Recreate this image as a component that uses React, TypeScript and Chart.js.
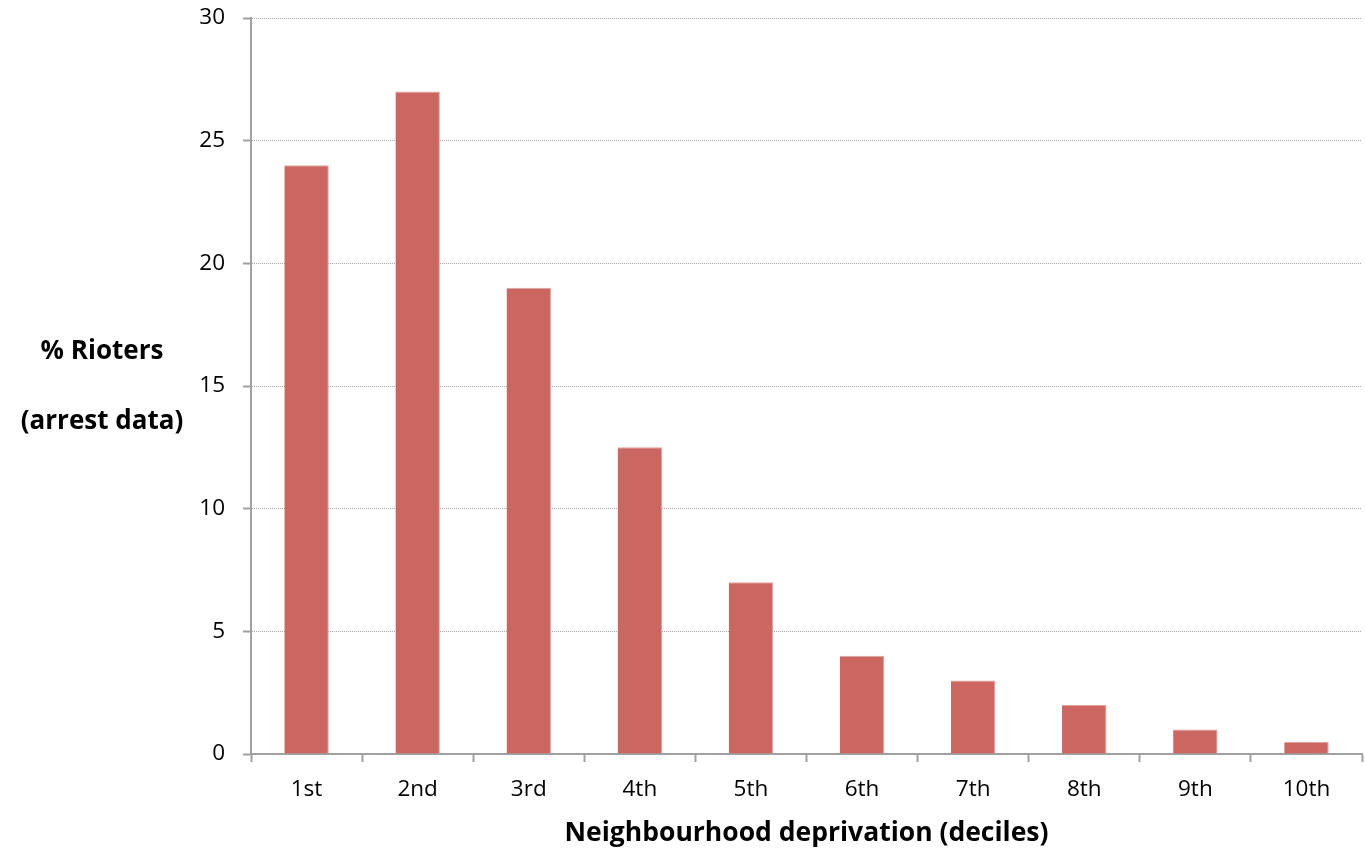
import React, { useEffect, useRef } from "react";
import { Chart, registerables } from "chart.js";

Chart.register(...registerables);

// Share of arrested rioters by neighbourhood deprivation decile
const deciles = ["1st", "2nd", "3rd", "4th", "5th", "6th", "7th", "8th", "9th", "10th"];
const rioterShare = [24, 27, 19, 12.5, 7, 4, 3, 2, 1, 0.5];
const yTicks = [0, 5, 10, 15, 20, 25, 30];
const yTitleLines = ["% Rioters", "(arrest data)"];
const xTitle = "Neighbourhood deprivation (deciles)";

const FONT = "'Open Sans', sans-serif";

// Horizontal, two-line y-axis title drawn left of the tick labels
const sideTitle = {
  id: "sideTitle",
  afterDraw(chart: any) {
    const { ctx, chartArea } = chart;
    const cx = chartArea.left - 149;
    const cy = (chartArea.top + chartArea.bottom) / 2;
    ctx.save();
    ctx.font = `bold 26px ${FONT}`;
    ctx.fillStyle = "#000";
    ctx.textAlign = "center";
    ctx.textBaseline = "middle";
    ctx.fillText(yTitleLines[0], cx, cy - 34);
    ctx.fillText(yTitleLines[1], cx, cy + 36);
    ctx.restore();
  },
};

export default function App() {
  const ref = useRef<HTMLCanvasElement>(null);

  useEffect(() => {
    if (!ref.current) return;
    const chart = new Chart(ref.current, {
      type: "bar",
      data: {
        labels: deciles,
        datasets: [
          {
            data: rioterShare,
            backgroundColor: "#CC6660",
            borderColor: "#E3A19B",
            borderWidth: { right: 1, top: 1, left: 0, bottom: 0 },
            borderSkipped: "bottom",
            categoryPercentage: 1,
            barPercentage: 0.4,
          },
        ],
      },
      options: {
        animation: false,
        responsive: false,
        layout: { padding: { top: 18, right: 3, left: 0, bottom: 0 } },
        plugins: { legend: { display: false }, tooltip: { enabled: false } },
        scales: {
          x: {
            grid: {
              offset: true,
              drawOnChartArea: false,
              drawTicks: true,
              tickLength: 8,
              tickColor: "#A0A0A0",
              tickWidth: 2,
            },
            border: { color: "#A0A0A0", width: 2 },
            ticks: {
              color: "#000",
              font: { family: FONT, size: 22.5 },
              padding: 14,
              maxRotation: 0,
            },
            title: {
              display: true,
              text: xTitle,
              color: "#000",
              font: { family: FONT, size: 26.5, weight: "bold" },
              padding: { top: 0, bottom: 3 },
            },
            afterFit(scale: any) {
              scale.height = 98;
              scale.paddingLeft = 0;
              scale.paddingRight = 0;
            },
          },
          y: {
            min: 0,
            max: 30,
            afterBuildTicks(scale: any) {
              scale.ticks = yTicks.map((v) => ({ value: v }));
            },
            grid: {
              color: "#A8A8A8",
              lineWidth: 1,
              drawTicks: true,
              tickLength: 8,
              tickColor: "#A0A0A0",
              tickWidth: 2,
              tickBorderDash: [],
            },
            border: { color: "#A0A0A0", width: 2, dash: [1, 1] },
            ticks: {
              color: "#000",
              font: { family: FONT, size: 22.5 },
              padding: 18,
            },
            afterFit(scale: any) {
              scale.width = 251;
              scale.paddingTop = 0;
              scale.paddingBottom = 0;
            },
          },
        },
      },
      plugins: [sideTitle],
    });
    return () => chart.destroy();
  }, []);

  return (
    <div style={{ position: "absolute", left: 0, top: 0, width: 1365, height: 852, background: "#fff" }}>
      <canvas ref={ref} width={1365} height={852} style={{ display: "block" }} />
    </div>
  );
}
